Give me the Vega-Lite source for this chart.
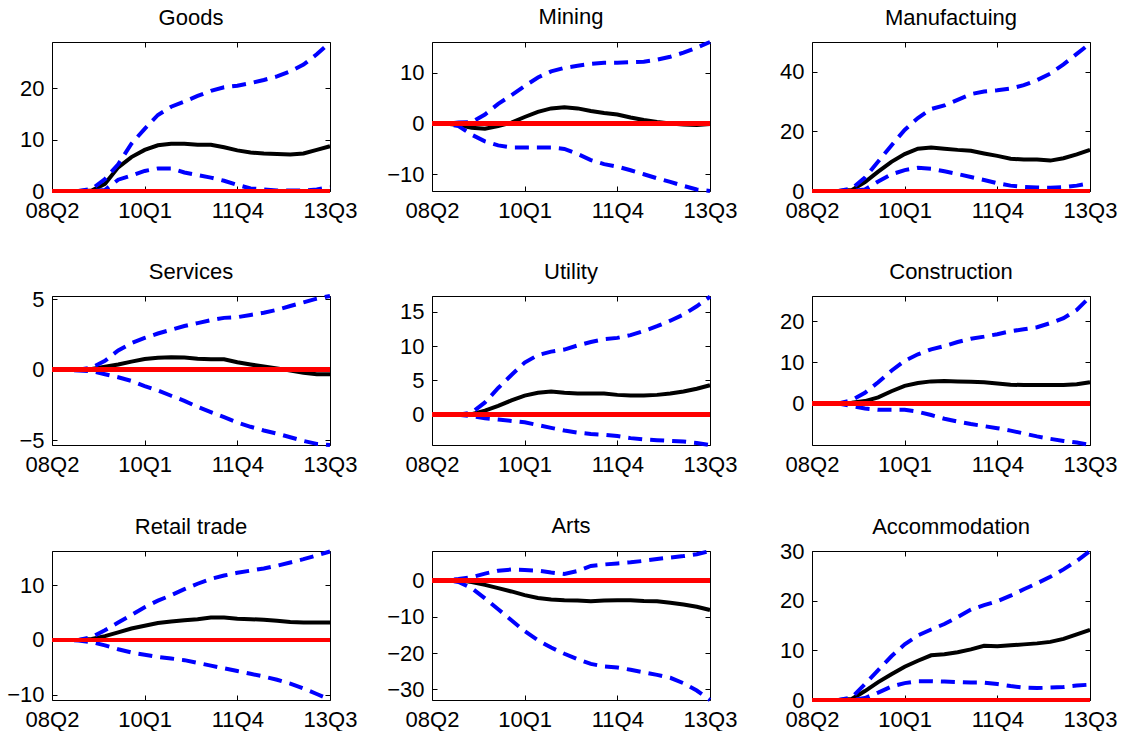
{
 "$schema": "https://vega.github.io/schema/vega-lite/v6.json",
 "background": "white",
 "padding": {"left": 5, "top": 5, "right": 0, "bottom": 0},
 "columns": 3,
 "spacing": {"row": 38, "column": 27},
 "datasets": {"irf": [
{"s":"Goods","q":"08Q2","m":0,"lo":0,"hi":0},{"s":"Goods","q":"08Q3","m":0,"lo":0,"hi":0},{"s":"Goods","q":"08Q4","m":0,"lo":0,"hi":0},{"s":"Goods","q":"09Q1","m":0.1,"lo":0,"hi":0.4},{"s":"Goods","q":"09Q2","m":1.4,"lo":0.2,"hi":2.3},{"s":"Goods","q":"09Q3","m":4.6,"lo":2.2,"hi":5.2},{"s":"Goods","q":"09Q4","m":6.6,"lo":3.0,"hi":9.2},{"s":"Goods","q":"10Q1","m":8.0,"lo":3.9,"hi":12.1},{"s":"Goods","q":"10Q2","m":8.9,"lo":4.4,"hi":14.8},{"s":"Goods","q":"10Q3","m":9.2,"lo":4.4,"hi":16.4},{"s":"Goods","q":"10Q4","m":9.2,"lo":3.6,"hi":17.4},{"s":"Goods","q":"11Q1","m":9.0,"lo":3.1,"hi":18.5},{"s":"Goods","q":"11Q2","m":9.0,"lo":2.6,"hi":19.5},{"s":"Goods","q":"11Q3","m":8.5,"lo":2.0,"hi":20.2},{"s":"Goods","q":"11Q4","m":7.9,"lo":1.2,"hi":20.5},{"s":"Goods","q":"12Q1","m":7.5,"lo":0.5,"hi":21.0},{"s":"Goods","q":"12Q2","m":7.3,"lo":0.3,"hi":21.6},{"s":"Goods","q":"12Q3","m":7.2,"lo":0.1,"hi":22.3},{"s":"Goods","q":"12Q4","m":7.1,"lo":0.1,"hi":23.3},{"s":"Goods","q":"13Q1","m":7.3,"lo":0.1,"hi":24.6},{"s":"Goods","q":"13Q2","m":8.0,"lo":0.3,"hi":26.6},{"s":"Goods","q":"13Q3","m":8.7,"lo":0.8,"hi":28.9},
{"s":"Mining","q":"08Q2","m":0,"lo":0,"hi":0},{"s":"Mining","q":"08Q3","m":0,"lo":0,"hi":0},{"s":"Mining","q":"08Q4","m":-0.3,"lo":-0.5,"hi":0.2},{"s":"Mining","q":"09Q1","m":-0.8,"lo":-2.2,"hi":0.3},{"s":"Mining","q":"09Q2","m":-1.0,"lo":-3.5,"hi":1.8},{"s":"Mining","q":"09Q3","m":-0.5,"lo":-4.3,"hi":3.9},{"s":"Mining","q":"09Q4","m":0.2,"lo":-4.7,"hi":5.6},{"s":"Mining","q":"10Q1","m":1.3,"lo":-4.7,"hi":7.4},{"s":"Mining","q":"10Q2","m":2.3,"lo":-4.7,"hi":9.1},{"s":"Mining","q":"10Q3","m":3.0,"lo":-4.7,"hi":10.3},{"s":"Mining","q":"10Q4","m":3.2,"lo":-5.0,"hi":11.0},{"s":"Mining","q":"11Q1","m":3.0,"lo":-6.0,"hi":11.4},{"s":"Mining","q":"11Q2","m":2.5,"lo":-7.2,"hi":11.8},{"s":"Mining","q":"11Q3","m":2.1,"lo":-8.0,"hi":12.0},{"s":"Mining","q":"11Q4","m":1.8,"lo":-8.5,"hi":12.0},{"s":"Mining","q":"12Q1","m":1.2,"lo":-9.2,"hi":12.1},{"s":"Mining","q":"12Q2","m":0.7,"lo":-10.0,"hi":12.2},{"s":"Mining","q":"12Q3","m":0.3,"lo":-10.8,"hi":12.6},{"s":"Mining","q":"12Q4","m":0.0,"lo":-11.5,"hi":13.2},{"s":"Mining","q":"13Q1","m":-0.2,"lo":-12.3,"hi":14.0},{"s":"Mining","q":"13Q2","m":-0.3,"lo":-13.0,"hi":15.0},{"s":"Mining","q":"13Q3","m":-0.1,"lo":-13.3,"hi":16.1},
{"s":"Manufactuing","q":"08Q2","m":0,"lo":0,"hi":0},{"s":"Manufactuing","q":"08Q3","m":0,"lo":0,"hi":0},{"s":"Manufactuing","q":"08Q4","m":0,"lo":0,"hi":0},{"s":"Manufactuing","q":"09Q1","m":0.3,"lo":0,"hi":0.8},{"s":"Manufactuing","q":"09Q2","m":3.0,"lo":0.5,"hi":4.5},{"s":"Manufactuing","q":"09Q3","m":6.5,"lo":3.2,"hi":9.9},{"s":"Manufactuing","q":"09Q4","m":9.8,"lo":5.6,"hi":15.3},{"s":"Manufactuing","q":"10Q1","m":12.4,"lo":7.0,"hi":20.5},{"s":"Manufactuing","q":"10Q2","m":14.2,"lo":7.8,"hi":24.5},{"s":"Manufactuing","q":"10Q3","m":14.6,"lo":7.5,"hi":27.5},{"s":"Manufactuing","q":"10Q4","m":14.2,"lo":6.6,"hi":28.7},{"s":"Manufactuing","q":"11Q1","m":13.8,"lo":5.7,"hi":30.6},{"s":"Manufactuing","q":"11Q2","m":13.5,"lo":4.7,"hi":32.5},{"s":"Manufactuing","q":"11Q3","m":12.6,"lo":3.7,"hi":33.4},{"s":"Manufactuing","q":"11Q4","m":11.8,"lo":2.6,"hi":33.8},{"s":"Manufactuing","q":"12Q1","m":10.8,"lo":1.8,"hi":34.4},{"s":"Manufactuing","q":"12Q2","m":10.6,"lo":1.4,"hi":35.5},{"s":"Manufactuing","q":"12Q3","m":10.6,"lo":1.2,"hi":37.2},{"s":"Manufactuing","q":"12Q4","m":10.2,"lo":1.1,"hi":39.4},{"s":"Manufactuing","q":"13Q1","m":11.0,"lo":1.3,"hi":42.5},{"s":"Manufactuing","q":"13Q2","m":12.3,"lo":1.8,"hi":46.0},{"s":"Manufactuing","q":"13Q3","m":13.8,"lo":2.6,"hi":49.5},
{"s":"Services","q":"08Q2","m":0,"lo":0,"hi":0},{"s":"Services","q":"08Q3","m":0,"lo":0,"hi":0},{"s":"Services","q":"08Q4","m":0,"lo":-0.05,"hi":0},{"s":"Services","q":"09Q1","m":0.05,"lo":-0.1,"hi":0.16},{"s":"Services","q":"09Q2","m":0.21,"lo":-0.32,"hi":0.63},{"s":"Services","q":"09Q3","m":0.37,"lo":-0.53,"hi":1.37},{"s":"Services","q":"09Q4","m":0.58,"lo":-0.79,"hi":1.89},{"s":"Services","q":"10Q1","m":0.76,"lo":-1.16,"hi":2.26},{"s":"Services","q":"10Q2","m":0.86,"lo":-1.47,"hi":2.57},{"s":"Services","q":"10Q3","m":0.89,"lo":-1.84,"hi":2.84},{"s":"Services","q":"10Q4","m":0.87,"lo":-2.2,"hi":3.1},{"s":"Services","q":"11Q1","m":0.79,"lo":-2.63,"hi":3.31},{"s":"Services","q":"11Q2","m":0.74,"lo":-3.0,"hi":3.52},{"s":"Services","q":"11Q3","m":0.74,"lo":-3.36,"hi":3.68},{"s":"Services","q":"11Q4","m":0.53,"lo":-3.73,"hi":3.73},{"s":"Services","q":"12Q1","m":0.37,"lo":-4.04,"hi":3.89},{"s":"Services","q":"12Q2","m":0.23,"lo":-4.3,"hi":4.04},{"s":"Services","q":"12Q3","m":0.1,"lo":-4.52,"hi":4.25},{"s":"Services","q":"12Q4","m":-0.05,"lo":-4.78,"hi":4.52},{"s":"Services","q":"13Q1","m":-0.21,"lo":-5.04,"hi":4.78},{"s":"Services","q":"13Q2","m":-0.32,"lo":-5.25,"hi":5.04},{"s":"Services","q":"13Q3","m":-0.32,"lo":-5.33,"hi":5.23},
{"s":"Utility","q":"08Q2","m":0,"lo":0,"hi":0},{"s":"Utility","q":"08Q3","m":0,"lo":0,"hi":0},{"s":"Utility","q":"08Q4","m":0,"lo":0,"hi":0},{"s":"Utility","q":"09Q1","m":0.1,"lo":-0.2,"hi":0.3},{"s":"Utility","q":"09Q2","m":0.6,"lo":-0.5,"hi":1.8},{"s":"Utility","q":"09Q3","m":1.3,"lo":-0.7,"hi":3.9},{"s":"Utility","q":"09Q4","m":2.1,"lo":-0.9,"hi":5.8},{"s":"Utility","q":"10Q1","m":2.8,"lo":-1.1,"hi":7.6},{"s":"Utility","q":"10Q2","m":3.2,"lo":-1.5,"hi":8.7},{"s":"Utility","q":"10Q3","m":3.4,"lo":-1.9,"hi":9.2},{"s":"Utility","q":"10Q4","m":3.2,"lo":-2.3,"hi":9.5},{"s":"Utility","q":"11Q1","m":3.1,"lo":-2.6,"hi":10.1},{"s":"Utility","q":"11Q2","m":3.1,"lo":-2.8,"hi":10.6},{"s":"Utility","q":"11Q3","m":3.1,"lo":-2.9,"hi":11.0},{"s":"Utility","q":"11Q4","m":2.9,"lo":-3.1,"hi":11.2},{"s":"Utility","q":"12Q1","m":2.8,"lo":-3.4,"hi":11.6},{"s":"Utility","q":"12Q2","m":2.8,"lo":-3.6,"hi":12.2},{"s":"Utility","q":"12Q3","m":2.9,"lo":-3.7,"hi":12.9},{"s":"Utility","q":"12Q4","m":3.1,"lo":-3.8,"hi":13.7},{"s":"Utility","q":"13Q1","m":3.4,"lo":-3.9,"hi":14.6},{"s":"Utility","q":"13Q2","m":3.8,"lo":-4.1,"hi":15.8},{"s":"Utility","q":"13Q3","m":4.3,"lo":-4.4,"hi":17.2},
{"s":"Construction","q":"08Q2","m":0,"lo":0,"hi":0},{"s":"Construction","q":"08Q3","m":0,"lo":0,"hi":0},{"s":"Construction","q":"08Q4","m":0,"lo":0,"hi":0},{"s":"Construction","q":"09Q1","m":0.2,"lo":-0.6,"hi":0.8},{"s":"Construction","q":"09Q2","m":0.6,"lo":-1.2,"hi":2.6},{"s":"Construction","q":"09Q3","m":1.5,"lo":-1.5,"hi":5.2},{"s":"Construction","q":"09Q4","m":3.0,"lo":-1.5,"hi":8.0},{"s":"Construction","q":"10Q1","m":4.3,"lo":-1.5,"hi":10.4},{"s":"Construction","q":"10Q2","m":5.0,"lo":-2.0,"hi":12.0},{"s":"Construction","q":"10Q3","m":5.4,"lo":-2.8,"hi":13.2},{"s":"Construction","q":"10Q4","m":5.5,"lo":-3.7,"hi":14.0},{"s":"Construction","q":"11Q1","m":5.4,"lo":-4.4,"hi":15.0},{"s":"Construction","q":"11Q2","m":5.3,"lo":-5.0,"hi":15.8},{"s":"Construction","q":"11Q3","m":5.2,"lo":-5.5,"hi":16.3},{"s":"Construction","q":"11Q4","m":4.9,"lo":-6.0,"hi":16.9},{"s":"Construction","q":"12Q1","m":4.6,"lo":-6.6,"hi":17.6},{"s":"Construction","q":"12Q2","m":4.5,"lo":-7.3,"hi":18.1},{"s":"Construction","q":"12Q3","m":4.5,"lo":-8.0,"hi":18.6},{"s":"Construction","q":"12Q4","m":4.5,"lo":-8.6,"hi":19.6},{"s":"Construction","q":"13Q1","m":4.5,"lo":-9.1,"hi":20.8},{"s":"Construction","q":"13Q2","m":4.7,"lo":-9.5,"hi":22.8},{"s":"Construction","q":"13Q3","m":5.2,"lo":-10.1,"hi":26.0},
{"s":"Retail trade","q":"08Q2","m":0,"lo":0,"hi":0},{"s":"Retail trade","q":"08Q3","m":0,"lo":0,"hi":0},{"s":"Retail trade","q":"08Q4","m":0,"lo":-0.1,"hi":0},{"s":"Retail trade","q":"09Q1","m":0.2,"lo":-0.4,"hi":0.5},{"s":"Retail trade","q":"09Q2","m":0.7,"lo":-1.0,"hi":1.8},{"s":"Retail trade","q":"09Q3","m":1.4,"lo":-1.7,"hi":3.2},{"s":"Retail trade","q":"09Q4","m":2.1,"lo":-2.3,"hi":4.6},{"s":"Retail trade","q":"10Q1","m":2.6,"lo":-2.7,"hi":6.0},{"s":"Retail trade","q":"10Q2","m":3.1,"lo":-3.1,"hi":7.2},{"s":"Retail trade","q":"10Q3","m":3.4,"lo":-3.4,"hi":8.2},{"s":"Retail trade","q":"10Q4","m":3.6,"lo":-3.7,"hi":9.3},{"s":"Retail trade","q":"11Q1","m":3.8,"lo":-4.2,"hi":10.3},{"s":"Retail trade","q":"11Q2","m":4.1,"lo":-4.7,"hi":11.2},{"s":"Retail trade","q":"11Q3","m":4.1,"lo":-5.2,"hi":11.8},{"s":"Retail trade","q":"11Q4","m":3.9,"lo":-5.7,"hi":12.3},{"s":"Retail trade","q":"12Q1","m":3.8,"lo":-6.2,"hi":12.7},{"s":"Retail trade","q":"12Q2","m":3.7,"lo":-6.7,"hi":13.1},{"s":"Retail trade","q":"12Q3","m":3.5,"lo":-7.3,"hi":13.6},{"s":"Retail trade","q":"12Q4","m":3.3,"lo":-8.0,"hi":14.2},{"s":"Retail trade","q":"13Q1","m":3.2,"lo":-8.9,"hi":14.8},{"s":"Retail trade","q":"13Q2","m":3.2,"lo":-9.9,"hi":15.5},{"s":"Retail trade","q":"13Q3","m":3.2,"lo":-10.9,"hi":16.2},
{"s":"Arts","q":"08Q2","m":0,"lo":0,"hi":0},{"s":"Arts","q":"08Q3","m":0,"lo":0,"hi":0},{"s":"Arts","q":"08Q4","m":0,"lo":-0.5,"hi":0.3},{"s":"Arts","q":"09Q1","m":-0.5,"lo":-2.2,"hi":0.8},{"s":"Arts","q":"09Q2","m":-1.3,"lo":-5.0,"hi":1.8},{"s":"Arts","q":"09Q3","m":-2.2,"lo":-8.0,"hi":2.6},{"s":"Arts","q":"09Q4","m":-3.1,"lo":-11.0,"hi":2.9},{"s":"Arts","q":"10Q1","m":-4.1,"lo":-14.0,"hi":2.8},{"s":"Arts","q":"10Q2","m":-4.9,"lo":-16.5,"hi":2.6},{"s":"Arts","q":"10Q3","m":-5.3,"lo":-18.5,"hi":2.1},{"s":"Arts","q":"10Q4","m":-5.5,"lo":-20.2,"hi":1.7},{"s":"Arts","q":"11Q1","m":-5.6,"lo":-21.7,"hi":2.5},{"s":"Arts","q":"11Q2","m":-5.8,"lo":-23.0,"hi":3.9},{"s":"Arts","q":"11Q3","m":-5.6,"lo":-23.7,"hi":4.3},{"s":"Arts","q":"11Q4","m":-5.5,"lo":-24.0,"hi":4.6},{"s":"Arts","q":"12Q1","m":-5.5,"lo":-24.6,"hi":4.9},{"s":"Arts","q":"12Q2","m":-5.7,"lo":-25.3,"hi":5.3},{"s":"Arts","q":"12Q3","m":-5.8,"lo":-26.0,"hi":5.8},{"s":"Arts","q":"12Q4","m":-6.2,"lo":-26.8,"hi":6.2},{"s":"Arts","q":"13Q1","m":-6.7,"lo":-28.3,"hi":6.6},{"s":"Arts","q":"13Q2","m":-7.3,"lo":-30.3,"hi":7.1},{"s":"Arts","q":"13Q3","m":-8.2,"lo":-32.9,"hi":8.0},
{"s":"Accommodation","q":"08Q2","m":0,"lo":0,"hi":0},{"s":"Accommodation","q":"08Q3","m":0,"lo":0,"hi":0},{"s":"Accommodation","q":"08Q4","m":0,"lo":0,"hi":0},{"s":"Accommodation","q":"09Q1","m":0.2,"lo":0,"hi":0.5},{"s":"Accommodation","q":"09Q2","m":1.8,"lo":0.4,"hi":3.2},{"s":"Accommodation","q":"09Q3","m":3.6,"lo":1.5,"hi":6.0},{"s":"Accommodation","q":"09Q4","m":5.2,"lo":2.7,"hi":8.8},{"s":"Accommodation","q":"10Q1","m":6.7,"lo":3.4,"hi":11.2},{"s":"Accommodation","q":"10Q2","m":7.9,"lo":3.8,"hi":13.0},{"s":"Accommodation","q":"10Q3","m":9.0,"lo":3.8,"hi":14.2},{"s":"Accommodation","q":"10Q4","m":9.2,"lo":3.7,"hi":15.3},{"s":"Accommodation","q":"11Q1","m":9.6,"lo":3.6,"hi":16.7},{"s":"Accommodation","q":"11Q2","m":10.2,"lo":3.5,"hi":18.2},{"s":"Accommodation","q":"11Q3","m":10.9,"lo":3.5,"hi":19.1},{"s":"Accommodation","q":"11Q4","m":10.8,"lo":3.2,"hi":19.9},{"s":"Accommodation","q":"12Q1","m":11.0,"lo":2.8,"hi":21.0},{"s":"Accommodation","q":"12Q2","m":11.2,"lo":2.5,"hi":22.3},{"s":"Accommodation","q":"12Q3","m":11.4,"lo":2.4,"hi":23.5},{"s":"Accommodation","q":"12Q4","m":11.7,"lo":2.5,"hi":24.8},{"s":"Accommodation","q":"13Q1","m":12.3,"lo":2.6,"hi":26.3},{"s":"Accommodation","q":"13Q2","m":13.2,"lo":2.9,"hi":28.0},{"s":"Accommodation","q":"13Q3","m":14.1,"lo":3.1,"hi":30.0}
 ]},
 "concat": [
  {"title": "Goods", "width": 278, "height": 149, "data": {"name": "irf"}, "transform": [{"filter": "datum.s === 'Goods'"}],
   "layer": [
    {"mark": {"type": "line", "color": "black", "strokeWidth": 4}, "encoding": {"x": {"field": "q", "type": "ordinal", "scale": {"type": "point", "padding": 0}, "axis": {"orient": "bottom", "values": ["08Q2","10Q1","11Q4","13Q3"], "title": null, "labelAngle": 0}}, "y": {"field": "m", "type": "quantitative", "scale": {"domain": [0, 29], "nice": false, "zero": false}, "axis": {"orient": "left", "values": [0,10,20], "title": null}}}},
    {"mark": {"type": "line", "color": "#0000ff", "strokeWidth": 4, "strokeDash": [14, 8]}, "encoding": {"x": {"field": "q", "type": "ordinal", "scale": {"type": "point", "padding": 0}, "axis": {"orient": "top", "values": ["08Q2","10Q1","11Q4","13Q3"], "title": null}}, "y": {"field": "hi", "type": "quantitative", "scale": {"domain": [0, 29], "nice": false, "zero": false}, "axis": {"orient": "right", "values": [0,10,20], "title": null}}}},
    {"mark": {"type": "line", "color": "#0000ff", "strokeWidth": 4, "strokeDash": [14, 8]}, "encoding": {"x": {"field": "q", "type": "ordinal", "scale": {"type": "point", "padding": 0}, "axis": null}, "y": {"field": "lo", "type": "quantitative", "scale": {"domain": [0, 29], "nice": false, "zero": false}, "axis": null}}},
    {"mark": {"type": "rule", "color": "#ff0000", "strokeWidth": 4}, "encoding": {"y": {"datum": 0, "type": "quantitative", "scale": {"domain": [0, 29], "nice": false, "zero": false}, "axis": null}}}
   ], "resolve": {"axis": {"x": "independent", "y": "independent"}}},
  {"title": "Mining", "width": 278, "height": 149, "data": {"name": "irf"}, "transform": [{"filter": "datum.s === 'Mining'"}],
   "layer": [
    {"mark": {"type": "line", "color": "black", "strokeWidth": 4}, "encoding": {"x": {"field": "q", "type": "ordinal", "scale": {"type": "point", "padding": 0}, "axis": {"orient": "bottom", "values": ["08Q2","10Q1","11Q4","13Q3"], "title": null, "labelAngle": 0}}, "y": {"field": "m", "type": "quantitative", "scale": {"domain": [-13.3, 16.1], "nice": false, "zero": false}, "axis": {"orient": "left", "values": [-10,0,10], "title": null}}}},
    {"mark": {"type": "line", "color": "#0000ff", "strokeWidth": 4, "strokeDash": [14, 8]}, "encoding": {"x": {"field": "q", "type": "ordinal", "scale": {"type": "point", "padding": 0}, "axis": {"orient": "top", "values": ["08Q2","10Q1","11Q4","13Q3"], "title": null}}, "y": {"field": "hi", "type": "quantitative", "scale": {"domain": [-13.3, 16.1], "nice": false, "zero": false}, "axis": {"orient": "right", "values": [-10,0,10], "title": null}}}},
    {"mark": {"type": "line", "color": "#0000ff", "strokeWidth": 4, "strokeDash": [14, 8]}, "encoding": {"x": {"field": "q", "type": "ordinal", "scale": {"type": "point", "padding": 0}, "axis": null}, "y": {"field": "lo", "type": "quantitative", "scale": {"domain": [-13.3, 16.1], "nice": false, "zero": false}, "axis": null}}},
    {"mark": {"type": "rule", "color": "#ff0000", "strokeWidth": 4}, "encoding": {"y": {"datum": 0, "type": "quantitative", "scale": {"domain": [-13.3, 16.1], "nice": false, "zero": false}, "axis": null}}}
   ], "resolve": {"axis": {"x": "independent", "y": "independent"}}},
  {"title": "Manufactuing", "width": 278, "height": 149, "data": {"name": "irf"}, "transform": [{"filter": "datum.s === 'Manufactuing'"}],
   "layer": [
    {"mark": {"type": "line", "color": "black", "strokeWidth": 4}, "encoding": {"x": {"field": "q", "type": "ordinal", "scale": {"type": "point", "padding": 0}, "axis": {"orient": "bottom", "values": ["08Q2","10Q1","11Q4","13Q3"], "title": null, "labelAngle": 0}}, "y": {"field": "m", "type": "quantitative", "scale": {"domain": [0, 50], "nice": false, "zero": false}, "axis": {"orient": "left", "values": [0,20,40], "title": null}}}},
    {"mark": {"type": "line", "color": "#0000ff", "strokeWidth": 4, "strokeDash": [14, 8]}, "encoding": {"x": {"field": "q", "type": "ordinal", "scale": {"type": "point", "padding": 0}, "axis": {"orient": "top", "values": ["08Q2","10Q1","11Q4","13Q3"], "title": null}}, "y": {"field": "hi", "type": "quantitative", "scale": {"domain": [0, 50], "nice": false, "zero": false}, "axis": {"orient": "right", "values": [0,20,40], "title": null}}}},
    {"mark": {"type": "line", "color": "#0000ff", "strokeWidth": 4, "strokeDash": [14, 8]}, "encoding": {"x": {"field": "q", "type": "ordinal", "scale": {"type": "point", "padding": 0}, "axis": null}, "y": {"field": "lo", "type": "quantitative", "scale": {"domain": [0, 50], "nice": false, "zero": false}, "axis": null}}},
    {"mark": {"type": "rule", "color": "#ff0000", "strokeWidth": 4}, "encoding": {"y": {"datum": 0, "type": "quantitative", "scale": {"domain": [0, 50], "nice": false, "zero": false}, "axis": null}}}
   ], "resolve": {"axis": {"x": "independent", "y": "independent"}}},
  {"title": {"text": "Services", "offset": 4}, "width": 278, "height": 149, "data": {"name": "irf"}, "transform": [{"filter": "datum.s === 'Services'"}],
   "layer": [
    {"mark": {"type": "line", "color": "black", "strokeWidth": 4}, "encoding": {"x": {"field": "q", "type": "ordinal", "scale": {"type": "point", "padding": 0}, "axis": {"orient": "bottom", "values": ["08Q2","10Q1","11Q4","13Q3"], "title": null, "labelAngle": 0}}, "y": {"field": "m", "type": "quantitative", "scale": {"domain": [-5.33, 5.23], "nice": false, "zero": false}, "axis": {"orient": "left", "values": [-5,0,5], "title": null}}}},
    {"mark": {"type": "line", "color": "#0000ff", "strokeWidth": 4, "strokeDash": [14, 8]}, "encoding": {"x": {"field": "q", "type": "ordinal", "scale": {"type": "point", "padding": 0}, "axis": {"orient": "top", "values": ["08Q2","10Q1","11Q4","13Q3"], "title": null}}, "y": {"field": "hi", "type": "quantitative", "scale": {"domain": [-5.33, 5.23], "nice": false, "zero": false}, "axis": {"orient": "right", "values": [-5,0,5], "title": null}}}},
    {"mark": {"type": "line", "color": "#0000ff", "strokeWidth": 4, "strokeDash": [14, 8]}, "encoding": {"x": {"field": "q", "type": "ordinal", "scale": {"type": "point", "padding": 0}, "axis": null}, "y": {"field": "lo", "type": "quantitative", "scale": {"domain": [-5.33, 5.23], "nice": false, "zero": false}, "axis": null}}},
    {"mark": {"type": "rule", "color": "#ff0000", "strokeWidth": 4}, "encoding": {"y": {"datum": 0, "type": "quantitative", "scale": {"domain": [-5.33, 5.23], "nice": false, "zero": false}, "axis": null}}}
   ], "resolve": {"axis": {"x": "independent", "y": "independent"}}},
  {"title": "Utility", "width": 278, "height": 149, "data": {"name": "irf"}, "transform": [{"filter": "datum.s === 'Utility'"}],
   "layer": [
    {"mark": {"type": "line", "color": "black", "strokeWidth": 4}, "encoding": {"x": {"field": "q", "type": "ordinal", "scale": {"type": "point", "padding": 0}, "axis": {"orient": "bottom", "values": ["08Q2","10Q1","11Q4","13Q3"], "title": null, "labelAngle": 0}}, "y": {"field": "m", "type": "quantitative", "scale": {"domain": [-4.4, 17.3], "nice": false, "zero": false}, "axis": {"orient": "left", "values": [0,5,10,15], "title": null}}}},
    {"mark": {"type": "line", "color": "#0000ff", "strokeWidth": 4, "strokeDash": [14, 8]}, "encoding": {"x": {"field": "q", "type": "ordinal", "scale": {"type": "point", "padding": 0}, "axis": {"orient": "top", "values": ["08Q2","10Q1","11Q4","13Q3"], "title": null}}, "y": {"field": "hi", "type": "quantitative", "scale": {"domain": [-4.4, 17.3], "nice": false, "zero": false}, "axis": {"orient": "right", "values": [0,5,10,15], "title": null}}}},
    {"mark": {"type": "line", "color": "#0000ff", "strokeWidth": 4, "strokeDash": [14, 8]}, "encoding": {"x": {"field": "q", "type": "ordinal", "scale": {"type": "point", "padding": 0}, "axis": null}, "y": {"field": "lo", "type": "quantitative", "scale": {"domain": [-4.4, 17.3], "nice": false, "zero": false}, "axis": null}}},
    {"mark": {"type": "rule", "color": "#ff0000", "strokeWidth": 4}, "encoding": {"y": {"datum": 0, "type": "quantitative", "scale": {"domain": [-4.4, 17.3], "nice": false, "zero": false}, "axis": null}}}
   ], "resolve": {"axis": {"x": "independent", "y": "independent"}}},
  {"title": "Construction", "width": 278, "height": 149, "data": {"name": "irf"}, "transform": [{"filter": "datum.s === 'Construction'"}],
   "layer": [
    {"mark": {"type": "line", "color": "black", "strokeWidth": 4}, "encoding": {"x": {"field": "q", "type": "ordinal", "scale": {"type": "point", "padding": 0}, "axis": {"orient": "bottom", "values": ["08Q2","10Q1","11Q4","13Q3"], "title": null, "labelAngle": 0}}, "y": {"field": "m", "type": "quantitative", "scale": {"domain": [-10.1, 26.2], "nice": false, "zero": false}, "axis": {"orient": "left", "values": [0,10,20], "title": null}}}},
    {"mark": {"type": "line", "color": "#0000ff", "strokeWidth": 4, "strokeDash": [14, 8]}, "encoding": {"x": {"field": "q", "type": "ordinal", "scale": {"type": "point", "padding": 0}, "axis": {"orient": "top", "values": ["08Q2","10Q1","11Q4","13Q3"], "title": null}}, "y": {"field": "hi", "type": "quantitative", "scale": {"domain": [-10.1, 26.2], "nice": false, "zero": false}, "axis": {"orient": "right", "values": [0,10,20], "title": null}}}},
    {"mark": {"type": "line", "color": "#0000ff", "strokeWidth": 4, "strokeDash": [14, 8]}, "encoding": {"x": {"field": "q", "type": "ordinal", "scale": {"type": "point", "padding": 0}, "axis": null}, "y": {"field": "lo", "type": "quantitative", "scale": {"domain": [-10.1, 26.2], "nice": false, "zero": false}, "axis": null}}},
    {"mark": {"type": "rule", "color": "#ff0000", "strokeWidth": 4}, "encoding": {"y": {"datum": 0, "type": "quantitative", "scale": {"domain": [-10.1, 26.2], "nice": false, "zero": false}, "axis": null}}}
   ], "resolve": {"axis": {"x": "independent", "y": "independent"}}},
  {"title": "Retail trade", "width": 278, "height": 149, "data": {"name": "irf"}, "transform": [{"filter": "datum.s === 'Retail trade'"}],
   "layer": [
    {"mark": {"type": "line", "color": "black", "strokeWidth": 4}, "encoding": {"x": {"field": "q", "type": "ordinal", "scale": {"type": "point", "padding": 0}, "axis": {"orient": "bottom", "values": ["08Q2","10Q1","11Q4","13Q3"], "title": null, "labelAngle": 0}}, "y": {"field": "m", "type": "quantitative", "scale": {"domain": [-11, 16.3], "nice": false, "zero": false}, "axis": {"orient": "left", "values": [-10,0,10], "title": null}}}},
    {"mark": {"type": "line", "color": "#0000ff", "strokeWidth": 4, "strokeDash": [14, 8]}, "encoding": {"x": {"field": "q", "type": "ordinal", "scale": {"type": "point", "padding": 0}, "axis": {"orient": "top", "values": ["08Q2","10Q1","11Q4","13Q3"], "title": null}}, "y": {"field": "hi", "type": "quantitative", "scale": {"domain": [-11, 16.3], "nice": false, "zero": false}, "axis": {"orient": "right", "values": [-10,0,10], "title": null}}}},
    {"mark": {"type": "line", "color": "#0000ff", "strokeWidth": 4, "strokeDash": [14, 8]}, "encoding": {"x": {"field": "q", "type": "ordinal", "scale": {"type": "point", "padding": 0}, "axis": null}, "y": {"field": "lo", "type": "quantitative", "scale": {"domain": [-11, 16.3], "nice": false, "zero": false}, "axis": null}}},
    {"mark": {"type": "rule", "color": "#ff0000", "strokeWidth": 4}, "encoding": {"y": {"datum": 0, "type": "quantitative", "scale": {"domain": [-11, 16.3], "nice": false, "zero": false}, "axis": null}}}
   ], "resolve": {"axis": {"x": "independent", "y": "independent"}}},
  {"title": "Arts", "width": 278, "height": 149, "data": {"name": "irf"}, "transform": [{"filter": "datum.s === 'Arts'"}],
   "layer": [
    {"mark": {"type": "line", "color": "black", "strokeWidth": 4}, "encoding": {"x": {"field": "q", "type": "ordinal", "scale": {"type": "point", "padding": 0}, "axis": {"orient": "bottom", "values": ["08Q2","10Q1","11Q4","13Q3"], "title": null, "labelAngle": 0}}, "y": {"field": "m", "type": "quantitative", "scale": {"domain": [-32.9, 8.0], "nice": false, "zero": false}, "axis": {"orient": "left", "values": [-30,-20,-10,0], "title": null}}}},
    {"mark": {"type": "line", "color": "#0000ff", "strokeWidth": 4, "strokeDash": [14, 8]}, "encoding": {"x": {"field": "q", "type": "ordinal", "scale": {"type": "point", "padding": 0}, "axis": {"orient": "top", "values": ["08Q2","10Q1","11Q4","13Q3"], "title": null}}, "y": {"field": "hi", "type": "quantitative", "scale": {"domain": [-32.9, 8.0], "nice": false, "zero": false}, "axis": {"orient": "right", "values": [-30,-20,-10,0], "title": null}}}},
    {"mark": {"type": "line", "color": "#0000ff", "strokeWidth": 4, "strokeDash": [14, 8]}, "encoding": {"x": {"field": "q", "type": "ordinal", "scale": {"type": "point", "padding": 0}, "axis": null}, "y": {"field": "lo", "type": "quantitative", "scale": {"domain": [-32.9, 8.0], "nice": false, "zero": false}, "axis": null}}},
    {"mark": {"type": "rule", "color": "#ff0000", "strokeWidth": 4}, "encoding": {"y": {"datum": 0, "type": "quantitative", "scale": {"domain": [-32.9, 8.0], "nice": false, "zero": false}, "axis": null}}}
   ], "resolve": {"axis": {"x": "independent", "y": "independent"}}},
  {"title": {"text": "Accommodation", "offset": 1}, "width": 278, "height": 149, "data": {"name": "irf"}, "transform": [{"filter": "datum.s === 'Accommodation'"}],
   "layer": [
    {"mark": {"type": "line", "color": "black", "strokeWidth": 4}, "encoding": {"x": {"field": "q", "type": "ordinal", "scale": {"type": "point", "padding": 0}, "axis": {"orient": "bottom", "values": ["08Q2","10Q1","11Q4","13Q3"], "title": null, "labelAngle": 0}}, "y": {"field": "m", "type": "quantitative", "scale": {"domain": [0, 30], "nice": false, "zero": false}, "axis": {"orient": "left", "values": [0,10,20,30], "title": null}}}},
    {"mark": {"type": "line", "color": "#0000ff", "strokeWidth": 4, "strokeDash": [14, 8]}, "encoding": {"x": {"field": "q", "type": "ordinal", "scale": {"type": "point", "padding": 0}, "axis": {"orient": "top", "values": ["08Q2","10Q1","11Q4","13Q3"], "title": null}}, "y": {"field": "hi", "type": "quantitative", "scale": {"domain": [0, 30], "nice": false, "zero": false}, "axis": {"orient": "right", "values": [0,10,20,30], "title": null}}}},
    {"mark": {"type": "line", "color": "#0000ff", "strokeWidth": 4, "strokeDash": [14, 8]}, "encoding": {"x": {"field": "q", "type": "ordinal", "scale": {"type": "point", "padding": 0}, "axis": null}, "y": {"field": "lo", "type": "quantitative", "scale": {"domain": [0, 30], "nice": false, "zero": false}, "axis": null}}},
    {"mark": {"type": "rule", "color": "#ff0000", "strokeWidth": 4}, "encoding": {"y": {"datum": 0, "type": "quantitative", "scale": {"domain": [0, 30], "nice": false, "zero": false}, "axis": null}}}
   ], "resolve": {"axis": {"x": "independent", "y": "independent"}}}
 ],
 "config": {
  "view": {"stroke": "black", "strokeWidth": 1},
  "font": "Liberation Sans",
  "axis": {"grid": false, "domain": false, "tickColor": "black", "tickSize": -5, "tickWidth": 1, "labelFont": "Liberation Sans", "labelFontSize": 22, "labelColor": "black"},
  "axisLeft": {"labelPadding": 13, "minExtent": 46, "maxExtent": 46},
  "axisBottom": {"labelPadding": 14},
  "axisRight": {"labels": false, "minExtent": 0, "maxExtent": 0},
  "axisTop": {"labels": false, "minExtent": 0, "maxExtent": 0},
  "title": {"font": "Liberation Sans", "fontSize": 22, "fontWeight": "normal", "color": "black", "frame": "group", "baseline": "alphabetic", "offset": 5}
 }
}
